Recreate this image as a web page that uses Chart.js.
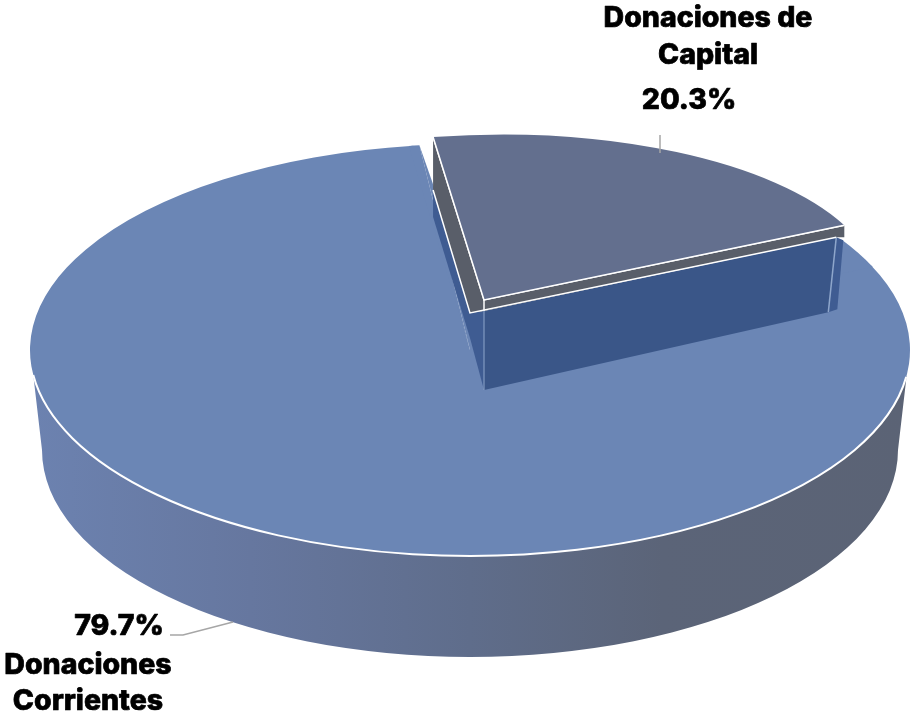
<!DOCTYPE html>
<html>
<head>
<meta charset="utf-8">
<style>
    html, body { margin: 0; padding: 0; background: #fff; }
    canvas { display: block; }
</style>
<script src="https://cdn.jsdelivr.net/npm/chart.js@4"></script>
</head>
<body>
<canvas id="canvas-grafico" width="911" height="713"></canvas>
<script>
const categorias = [["Donaciones de", "Capital"], ["Donaciones", "Corrientes"]];
const valores = [20.3, 79.7];
const colores = ["#636f8e", "#6b86b5"];

// plano de cada porcion: centro y ejes de la elipse en pantalla
const PLANO_PRINCIPAL = { a: 440, b: 0, c: 0, d: 206, e: 470, f: 350 };
const PLANO_CAPITAL = { a: 395.4, b: -7.4, c: 0, d: 165.3, e: 484, f: 300 };
const GRADO = Math.PI / 180;

function aplicarPlano(ctx, el, p){
    const R = el.outerRadius;
    ctx.transform(p.a / R, p.b / R, p.c / R, p.d / R, p.e, p.f);
    ctx.translate(-el.x, -el.y);
}

function punto(p, angulo){
    const u = Math.cos(angulo), v = Math.sin(angulo);
    return { x: p.e + p.a * u + p.c * v, y: p.f + p.b * u + p.d * v };
}

function poligono(ctx, puntos, relleno){
    ctx.beginPath();
    puntos.forEach((q, i) => i ? ctx.lineTo(q.x, q.y) : ctx.moveTo(q.x, q.y));
    ctx.closePath();
    ctx.fillStyle = relleno;
    ctx.fill();
}

function linea(ctx, puntos, color, ancho){
    ctx.beginPath();
    puntos.forEach((q, i) => i ? ctx.lineTo(q.x, q.y) : ctx.moveTo(q.x, q.y));
    ctx.strokeStyle = color;
    ctx.lineWidth = ancho;
    ctx.stroke();
}

function mover(q, dx, dy){
    return { x: q.x + dx, y: q.y + dy };
}

function dibujarCostado(ctx){
    const p = PLANO_PRINCIPAL;
    const grad = ctx.createLinearGradient(32, 0, 908, 0);
    grad.addColorStop(0, "#6c82b0");
    grad.addColorStop(0.25, "#66779f");
    grad.addColorStop(0.5, "#5f6d8b");
    grad.addColorStop(0.72, "#5b6478");
    grad.addColorStop(1, "#5b6375");
    ctx.beginPath();
    ctx.ellipse(p.e, p.f, p.a, p.d, 0, 7 * GRADO, 173 * GRADO);
    ctx.ellipse(p.e, 450, 428, 207, 0, Math.PI, 0, true);
    ctx.closePath();
    ctx.fillStyle = grad;
    ctx.fill();
}

function dibujarParedes(ctx, capital){
    const L = punto(PLANO_CAPITAL, capital.startAngle);
    const D = punto(PLANO_CAPITAL, capital.endAngle);
    const P = { x: PLANO_CAPITAL.e, y: PLANO_CAPITAL.f };

    // paredes azules bajo la porcion
    poligono(ctx, [mover(L, 0, 53), mover(P, -14, 13), mover(P, -14, 38), mover(L, 0, 80)], "#3f5c92");
    poligono(ctx, [mover(P, -14, 13), mover(P, 0, 11), mover(P, 0, 90), mover(P, -14, 38)], "#3f5c92");
    poligono(ctx, [mover(P, 0, 11), mover(D, -8, 12), mover(D, -16, 87), mover(P, 0, 90)], "#3a5688");
    poligono(ctx, [mover(D, -8, 12), mover(D, -1, 15), mover(D, -7, 84), mover(D, -16, 87)], "#3f5c92");
    linea(ctx, [mover(P, 0, 11), mover(P, 0, 90)], "#8ea6cb", 1);
    linea(ctx, [mover(D, -8, 12), mover(D, -16, 87)], "#8ea6cb", 1.5);

    // canto gris
    poligono(ctx, [L, P, D, mover(D, 0, 12), mover(D, -8, 12), mover(P, 0, 11), mover(P, -14, 13), mover(L, 0, 53)], "#595e69");
    linea(ctx, [L, P, D], "#ffffff", 1.5);
    linea(ctx, [P, mover(P, 0, 11)], "#ffffff", 1.5);
    linea(ctx, [mover(L, 0, 53), mover(P, -14, 13), mover(D, -8, 12)], "#ffffff", 1.5);
}

function rotulo(ctx, texto, x, y){
    ctx.strokeText(texto, x, y);
    ctx.fillText(texto, x, y);
}

function dibujarTextos(ctx){
    ctx.fillStyle = "#000000";
    ctx.strokeStyle = "#000000";
    ctx.lineWidth = 0.7;
    ctx.lineJoin = "round";
    ctx.textAlign = "center";
    ctx.textBaseline = "middle";
    ctx.font = "800 28.5px Inter";
    rotulo(ctx, categorias[0][0], 708, 18);
    rotulo(ctx, categorias[0][1], 708, 55);
    rotulo(ctx, valores[0].toFixed(1) + "%", 689, 100);
    rotulo(ctx, valores[1].toFixed(1) + "%", 119, 626);
    rotulo(ctx, categorias[1][0], 88, 665);
    rotulo(ctx, categorias[1][1], 88, 701);
}

const pie3d = {
    id: "pie3d",
    beforeDatasetsDraw(chart){
        const ctx = chart.ctx;
        const arcos = chart.getDatasetMeta(0).data;
        const capital = arcos[0];
        const corrientes = arcos[1];

        dibujarCostado(ctx);

        ctx.save();
        aplicarPlano(ctx, corrientes, PLANO_PRINCIPAL);
        corrientes.draw(ctx);
        // la foto deja ver algo mas de la cara superior bajo la esquina de la porcion separada
        ctx.beginPath();
        ctx.moveTo(corrientes.x, corrientes.y);
        ctx.arc(corrientes.x, corrientes.y, corrientes.outerRadius, corrientes.startAngle - 8 * GRADO, corrientes.startAngle + 0.01);
        ctx.closePath();
        ctx.fillStyle = colores[1];
        ctx.fill();
        // y el corte izquierdo queda algo girado por la perspectiva
        ctx.beginPath();
        ctx.moveTo(corrientes.x, corrientes.y);
        ctx.arc(corrientes.x, corrientes.y, corrientes.outerRadius, corrientes.endAngle - 0.01, corrientes.endAngle + 0.8 * GRADO);
        ctx.closePath();
        ctx.fill();
        ctx.restore();

        const p = PLANO_PRINCIPAL;
        const borde = punto(p, corrientes.endAngle + 0.8 * GRADO);
        poligono(ctx, [borde, { x: p.e + 14, y: p.f - 20 }, { x: p.e + 14, y: p.f }, { x: p.e, y: p.f }], colores[1]);

        ctx.beginPath();
        ctx.ellipse(p.e, p.f, p.a, p.d, 0, 7.5 * GRADO, 173 * GRADO);
        ctx.strokeStyle = "#ffffff";
        ctx.lineWidth = 2;
        ctx.stroke();

        dibujarParedes(ctx, capital);

        ctx.save();
        aplicarPlano(ctx, capital, PLANO_CAPITAL);
        capital.draw(ctx);
        ctx.restore();

        const L = punto(PLANO_CAPITAL, capital.startAngle);
        const D = punto(PLANO_CAPITAL, capital.endAngle);
        linea(ctx, [L, { x: PLANO_CAPITAL.e, y: PLANO_CAPITAL.f }, D], "#ffffff", 1.5);

        // lineas guia
        linea(ctx, [{ x: 660, y: 135 }, { x: 660, y: 153 }], "#a6a6a6", 1.5);
        linea(ctx, [{ x: 170, y: 635 }, { x: 183, y: 635 }, { x: 233, y: 622 }], "#a6a6a6", 1.5);

        dibujarTextos(ctx);
        return false;
    }
};

const ctx_g = document.getElementById("canvas-grafico");
const grafico = new Chart(ctx_g, {
    type: "pie",
    data: {
        labels: categorias,
        datasets: [{
            data: valores,
            backgroundColor: colores,
            borderWidth: 0
        }]
    },
    options: {
        responsive: false,
        animation: false,
        rotation: -7.4,
        plugins: {
            legend: { display: false },
            tooltip: { enabled: false }
        }
    },
    plugins: [pie3d]
});
</script>
</body>
</html>
